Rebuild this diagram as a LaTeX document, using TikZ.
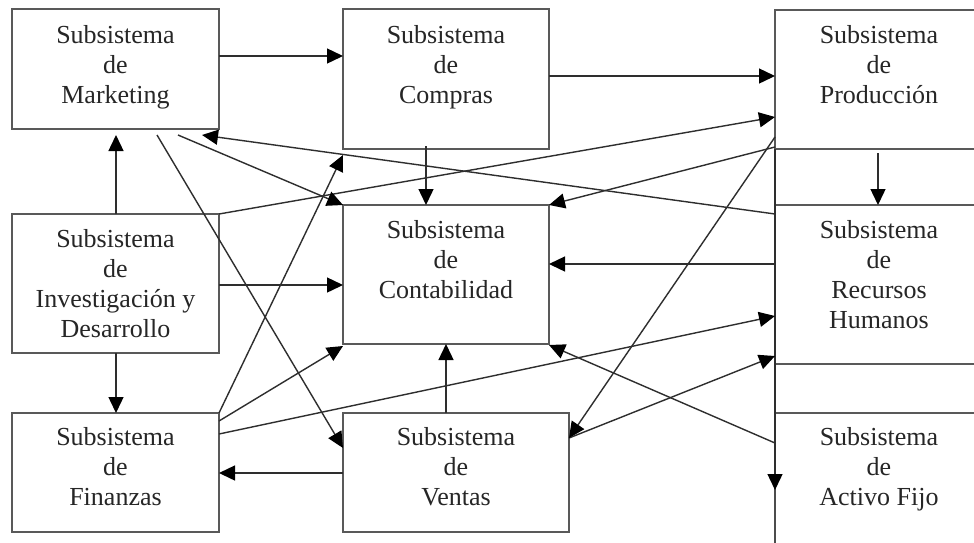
\documentclass[tikz,border=0pt]{standalone}
\usepackage{fontspec}
\setmainfont{Liberation Serif}
\usetikzlibrary{arrows.meta,calc}
\begin{document}
\begin{tikzpicture}[x=1pt,y=-1pt,
  box/.style={draw=black!65, line width=1.8pt, inner sep=0pt, outer sep=0pt, anchor=north west},
  lbl/.style={anchor=north, inner sep=0pt, align=center, text=black!85,
     font=\fontsize{26}{30}\selectfont},
  arr/.style={draw=black!82, line width=1.4pt, -{Triangle[length=16pt,width=15pt,fill=black,color=black]}},
  ln/.style={draw=black!70, line width=1.8pt}]
\useasboundingbox (0,0) rectangle (974,542);
\clip (0,0) rectangle (974,542);
\fill[white] (0,0) rectangle (974,542);
% boxes
\node[box, minimum width=207pt, minimum height=120pt] (mkt) at (12,9) {};
\node[box, minimum width=206pt, minimum height=140pt] (comp) at (343,9) {};
\node[box, minimum width=210pt, minimum height=139pt] (prod) at (775,10) {};
\node[box, minimum width=207pt, minimum height=139pt] (id) at (12,214) {};
\node[box, minimum width=206pt, minimum height=139pt] (cont) at (343,205) {};
\node[box, minimum width=210pt, minimum height=159pt] (rh) at (775,205) {};
\node[box, minimum width=207pt, minimum height=119pt] (fin) at (12,413) {};
\node[box, minimum width=226pt, minimum height=119pt] (ven) at (343,413) {};
\node[box, minimum width=210pt, minimum height=140pt] (af) at (775,413) {};
% labels
\node[lbl] (mktT) at (115.5,25) {Subsistema\\de\\Marketing};
\node[lbl] (compT) at (446,25) {Subsistema\\de\\Compras};
\node[lbl] (prodT) at (879,25) {Subsistema\\de\\Producción};
\node[lbl] (idT) at (115.5,229) {Subsistema\\de\\Investigación y\\Desarrollo};
\node[lbl] (contT) at (446,220) {Subsistema\\de\\Contabilidad};
\node[lbl] (rhT) at (879,220) {Subsistema\\de\\Recursos\\Humanos};
\node[lbl] (finT) at (115.5,427) {Subsistema\\de\\Finanzas};
\node[lbl] (venT) at (456,427) {Subsistema\\de\\Ventas};
\node[lbl] (afT) at (879,427) {Subsistema\\de\\Activo Fijo};
% vertical line along right column
\draw[ln] (prod.south west) -- (af.south west);
\draw[arr] (prod.south west) -- ($(af.north west)+(0,77)$);
% straight connectors
\draw[arr] ($(mkt.north east)+(0,47)$) -- ($(comp.north west)+(0,47)$);
\draw[arr] ($(comp.north east)+(0,67)$) -- ($(prod.north west)+(0,66)$);
\draw[arr] ($(comp.south west)+(83,-3)$) -- ($(cont.north west)+(83,0)$);
\draw[arr] ($(prod.south west)+(103,4)$) -- ($(rh.north west)+(103,0)$);
\draw[arr] ($(id.north west)+(104,0)$) -- ($(mkt.south west)+(104,6)$);
\draw[arr] ($(id.south west)+(104,0)$) -- ($(fin.north west)+(104,0)$);
\draw[arr] ($(id.north east)+(0,71)$) -- ($(cont.north west)+(0,80)$);
\draw[arr] ($(ven.north west)+(103,0)$) -- ($(cont.south west)+(103,0)$);
\draw[arr] ($(ven.north west)+(0,60)$) -- ($(fin.north east)+(0,60)$);
\draw[arr] ($(rh.north west)+(0,59)$) -- ($(cont.north east)+(0,59)$);
% diagonal connectors
\draw[arr] (id.north east) -- ($(prod.north west)+(0,107)$);
\draw[arr] ($(rh.north west)+(0,9)$) -- ($(mkt.south east)+(-17,6)$);
\draw[arr] ($(mkt.south east)+(-41,6)$) -- (cont.north west);
\draw[arr] ($(mkt.south west)+(145,6)$) -- ($(ven.north west)+(0,35)$);
\draw[arr] (fin.north east) -- ($(comp.south west)+(0,6)$);
\draw[arr] ($(fin.north east)+(0,8)$) -- ($(cont.south west)+(0,2)$);
\draw[arr] ($(fin.north east)+(0,21)$) -- ($(rh.north west)+(0,111)$);
\draw[arr] ($(ven.north east)+(0,25)$) -- ($(rh.north west)+(0,151)$);
\draw[arr] ($(prod.north west)+(0,127)$) -- ($(ven.north east)+(0,25)$);
\draw[arr] ($(prod.north west)+(0,137)$) -- (cont.north east);
\draw[arr] ($(af.north west)+(0,30)$) -- ($(cont.south east)+(0,1)$);
\end{tikzpicture}
\end{document}
